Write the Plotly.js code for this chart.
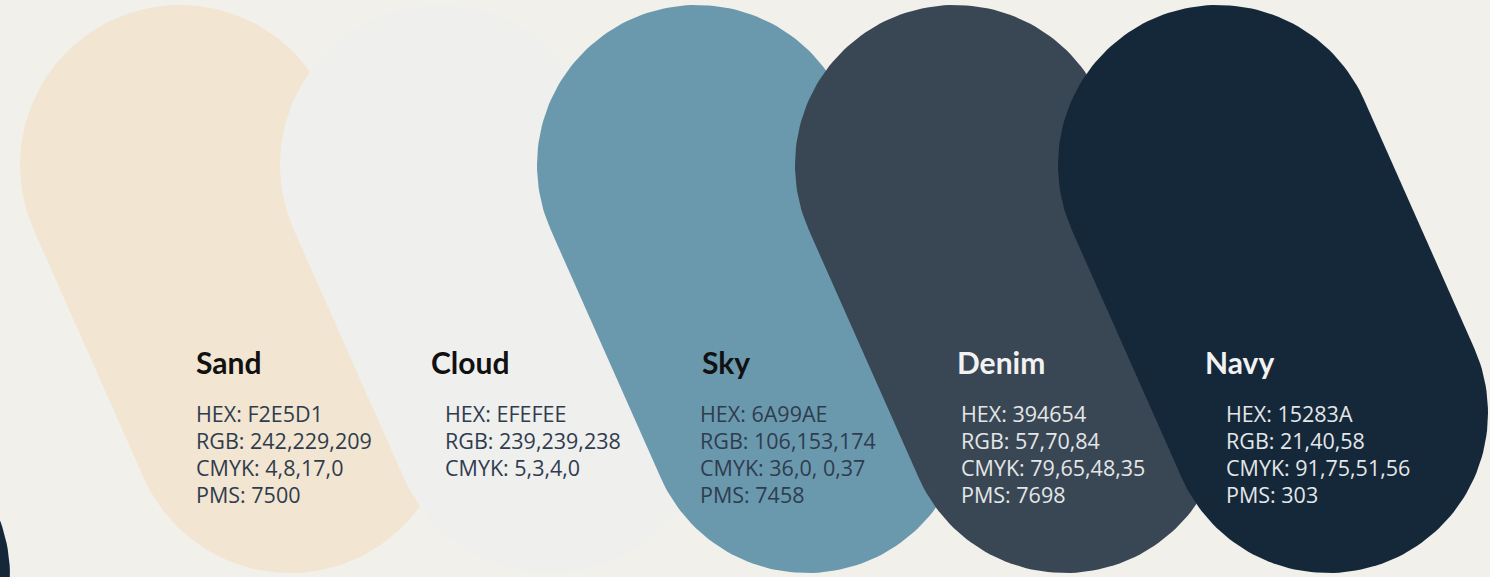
<!DOCTYPE html>
<html>
<head>
<meta charset="utf-8">
<script src="https://cdn.plot.ly/plotly-3.0.1.min.js"></script>
<style>
  html, body { margin: 0; padding: 0; background: #F1F0EB; }
  #chart { width: 1490px; height: 577px; }
</style>
</head>
<body>
<div id="chart"></div>
<script>
// ---- data ----
const names = ['Sand', 'Cloud', 'Sky', 'Denim', 'Navy'];
const hexCodes = ['F2E5D1', 'EFEFEE', '6A99AE', '394654', '15283A'];
const rgbValues = ['242,229,209', '239,239,238', '106,153,174', '57,70,84', '21,40,58'];
const cmykValues = ['4,8,17,0', '5,3,4,0', '36,0, 0,37', '79,65,48,35', '91,75,51,56'];
const pmsValues = ['7500', '', '7458', '7698', '303'];

// ---- styling / layout ----
const W = 1490, H = 577;
const bg = '#F1F0EB';
const fillColors = ['#F2E5D1', '#EFEFEE', '#6A99AE', '#394654', '#15283A'];
const darkFill = [false, false, false, true, true];
const titleX = [194, 429, 700, 955, 1203];
const infoX = [194, 443, 698, 959, 1224];
const pillTopX = [180, 440, 697, 955, 1218];
const R = 160, TOPY = 165, DX = 110, DY = 248;

function pill(cx, cy) {
  const tx = cx, ty = cy, bx = cx + DX, by = cy + DY;
  const a = Math.atan2(by - ty, bx - tx);
  const xs = [], ys = [];
  const N = 90;
  for (let i = 0; i <= N; i++) {
    const t = a + Math.PI / 2 + Math.PI * i / N;
    xs.push(tx + R * Math.cos(t)); ys.push(ty + R * Math.sin(t));
  }
  for (let i = 0; i <= N; i++) {
    const t = a - Math.PI / 2 + Math.PI * i / N;
    xs.push(bx + R * Math.cos(t)); ys.push(by + R * Math.sin(t));
  }
  xs.push(xs[0]); ys.push(ys[0]);
  return {xs, ys};
}

const traces = [];
// partial navy shape at the lower-left edge
{
  const p = pill(-260, 576 - DY);
  traces.push({x: p.xs, y: p.ys, type: 'scatter', mode: 'lines', fill: 'toself',
    fillcolor: '#15283A', line: {width: 0, color: '#15283A'}, hoverinfo: 'skip', showlegend: false});
}
names.forEach((n, i) => {
  const p = pill(pillTopX[i], TOPY);
  traces.push({x: p.xs, y: p.ys, type: 'scatter', mode: 'lines', fill: 'toself',
    fillcolor: fillColors[i], line: {width: 0, color: fillColors[i]},
    name: n, hoverinfo: 'name', showlegend: false});
});

const annotations = [];
const titleFont = 'Lato, "Open Sans", sans-serif';
const infoFont = '"Open Sans", Roboto, sans-serif';
names.forEach((n, i) => {
  annotations.push({x: titleX[i], y: 362, xref: 'x', yref: 'y', text: '<b>' + n + '</b>',
    showarrow: false, xanchor: 'left', yanchor: 'middle',
    font: {family: titleFont, size: 30, color: darkFill[i] ? '#F2F2F2' : '#111111'}});
  const lines = ['HEX: ' + hexCodes[i], 'RGB: ' + rgbValues[i], 'CMYK: ' + cmykValues[i]];
  if (pmsValues[i]) lines.push('PMS: ' + pmsValues[i]);
  lines.forEach((t, k) => {
    annotations.push({x: infoX[i], y: 413 + 27 * k, xref: 'x', yref: 'y', text: t,
      showarrow: false, xanchor: 'left', yanchor: 'middle',
      font: {family: infoFont, size: 21.5, color: darkFill[i] ? '#E4E6E8' : '#2F3C4E'}});
  });
});

const layout = {
  width: W, height: H,
  margin: {l: 0, r: 0, t: 0, b: 0, pad: 0},
  paper_bgcolor: bg, plot_bgcolor: bg,
  xaxis: {range: [0, W], visible: false, fixedrange: true},
  yaxis: {range: [H, 0], visible: false, fixedrange: true},
  annotations: annotations,
  showlegend: false
};

Plotly.newPlot('chart', traces, layout, {displayModeBar: false, staticPlot: true});
</script>
</body>
</html>
